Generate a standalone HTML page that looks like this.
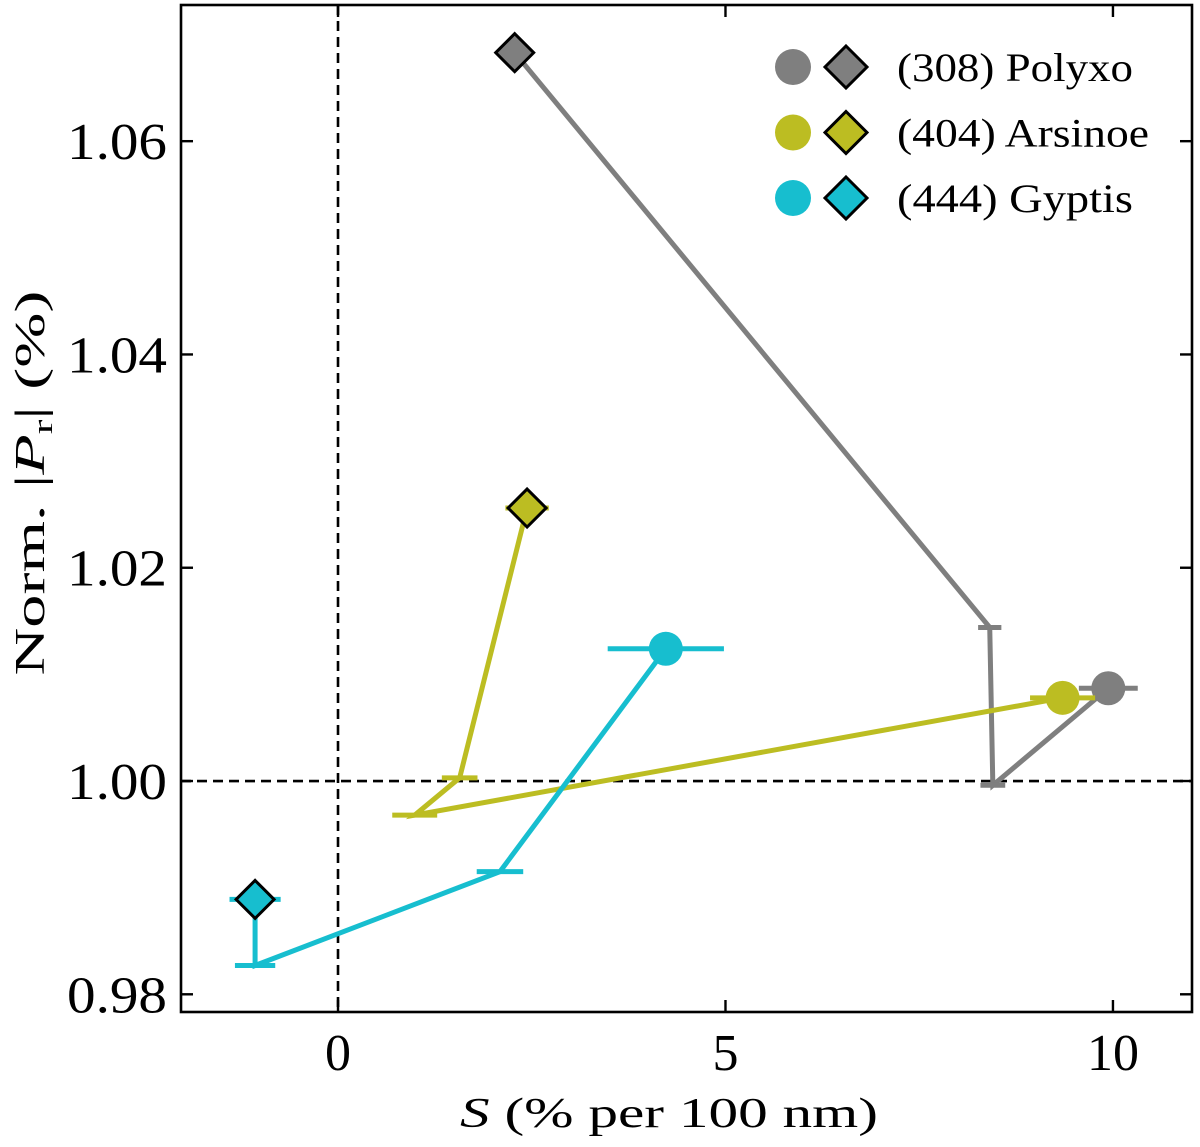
<!DOCTYPE html>
<html><head><meta charset="utf-8">
<style>
body{margin:0;background:#fff;}
svg{display:block;font-family:"Liberation Serif",serif;}
</style></head>
<body>
<svg id="chart" width="1200" height="1147" viewBox="0 0 1200 1147"></svg>
<script>
const xTicks=[0,5,10];
const yTicks=[0.98,1.00,1.02,1.04,1.06];
const yTickLabels=["0.98","1.00","1.02","1.04","1.06"];
const names=["(308) Polyxo","(404) Arsinoe","(444) Gyptis"];
const colors=["#7f7f7f","#bcbd22","#17becf"];
const polyxoS=[2.28,8.41,8.45,9.94];
const polyxoP=[1.0683,1.0144,0.9996,1.0087];
const polyxoErr=[0,0.15,0.16,0.38];
const arsinoeS=[2.44,1.57,0.99,9.35];
const arsinoeP=[1.0256,1.0003,0.9968,1.0078];
const arsinoeErr=[0.28,0.23,0.29,0.42];
const gyptisS=[-1.07,-1.07,2.09,4.23];
const gyptisP=[0.9889,0.9827,0.9915,1.0124];
const gyptisErr=[0.33,0.26,0.30,0.75];

const L=181,R=1192,T=5,B=1012;
const xMin=-2.026,xMax=11.02,yMin=0.97834,yMax=1.07277;
const sx=v=>L+(v-xMin)/(xMax-xMin)*(R-L);
const sy=v=>B-(v-yMin)/(yMax-yMin)*(B-T);
const svg=document.getElementById('chart');
const NS="http://www.w3.org/2000/svg";
function mk(tag,attrs,parent){const e=document.createElementNS(NS,tag);for(const k in attrs)e.setAttribute(k,attrs[k]);(parent||svg).appendChild(e);return e;}

let e=mk('line',{x1:sx(0),x2:sx(0),y1:T,y2:B,stroke:'#000','stroke-width':2.6,'stroke-dasharray':'10,6'});


e=mk('line',{x1:L,x2:R,y1:sy(1),y2:sy(1),stroke:'#000','stroke-width':2.6,'stroke-dasharray':'10,6'});



const series=[[polyxoS,polyxoP,polyxoErr],[arsinoeS,arsinoeP,arsinoeErr],[gyptisS,gyptisP,gyptisErr]];
series.forEach((s,i)=>{
  const g=mk('g',{});
  
  
  const [S,P,Er]=s;
  const pl=mk('polyline',{points:S.map((v,j)=>sx(v)+','+sy(P[j])).join(' '),fill:'none',stroke:colors[i],'stroke-width':5},g);
  
  
  S.forEach((v,j)=>{
    if(Er[j]>0){
      const eb=mk('line',{x1:sx(v-Er[j]),x2:sx(v+Er[j]),y1:sy(P[j]),y2:sy(P[j]),stroke:colors[i],'stroke-width':5},g);
      
      
    }
  });
  const n=S.length-1;
  const c=mk('circle',{cx:sx(S[n]),cy:sy(P[n]),r:17,fill:colors[i]},g);
  
  
  const dx=sx(S[0]),dy=sy(P[0]),d=19;
  const dm=mk('polygon',{points:`${dx},${dy-d} ${dx+d},${dy} ${dx},${dy+d} ${dx-d},${dy}`,fill:colors[i],stroke:'#000','stroke-width':3},g);
  
  
});

e=mk('rect',{x:L,y:T,width:R-L,height:B-T,fill:'none',stroke:'#000','stroke-width':2.6});


xTicks.forEach(v=>{
  mk('line',{x1:sx(v),x2:sx(v),y1:B,y2:B-12,stroke:'#000','stroke-width':2.4});
  mk('line',{x1:sx(v),x2:sx(v),y1:T,y2:T+12,stroke:'#000','stroke-width':2.4});
  const t=mk('text',{x:sx(v),y:B+58,'font-size':52,'text-anchor':'middle'});
  t.textContent=v;
  
  
});
yTicks.forEach((v,j)=>{
  mk('line',{x1:L,x2:L+12,y1:sy(v),y2:sy(v),stroke:'#000','stroke-width':2.4});
  mk('line',{x1:R,x2:R-12,y1:sy(v),y2:sy(v),stroke:'#000','stroke-width':2.4});
  const t=mk('text',{x:L-14,y:sy(v)+18,'font-size':52,'text-anchor':'end','textLength':100,'lengthAdjust':'spacingAndGlyphs'});
  t.textContent=yTickLabels[j];
  
  
});
e=mk('text',{x:669,y:1127,'font-size':42,'text-anchor':'middle','textLength':418,'lengthAdjust':'spacingAndGlyphs'});
e.innerHTML='<tspan font-style="italic">S</tspan> (% per 100 nm)';


e=mk('text',{x:0,y:0,'font-size':42,'text-anchor':'middle',transform:'translate(44,483) rotate(-90)','textLength':385,'lengthAdjust':'spacingAndGlyphs'});
e.innerHTML='Norm. |<tspan font-style="italic">P</tspan><tspan font-size="28" dy="8">r</tspan><tspan dy="-8">|</tspan> (%)';



const lg=mk('g',{});


const legendWidths=[236,252,236];
names.forEach((nm,i)=>{
  const y=67+i*65.5;
  const g=mk('g',{},lg);
  
  
  mk('circle',{cx:793,cy:y,r:18,fill:colors[i]},g);
  mk('polygon',{points:`846,${y-21} 867,${y} 846,${y+21} 825,${y}`,fill:colors[i],stroke:'#000','stroke-width':3},g);
  const t=mk('text',{x:897,y:y+14,'font-size':40,'textLength':legendWidths[i],'lengthAdjust':'spacingAndGlyphs'},g);
  t.textContent=nm;
});
</script>
</body></html>
